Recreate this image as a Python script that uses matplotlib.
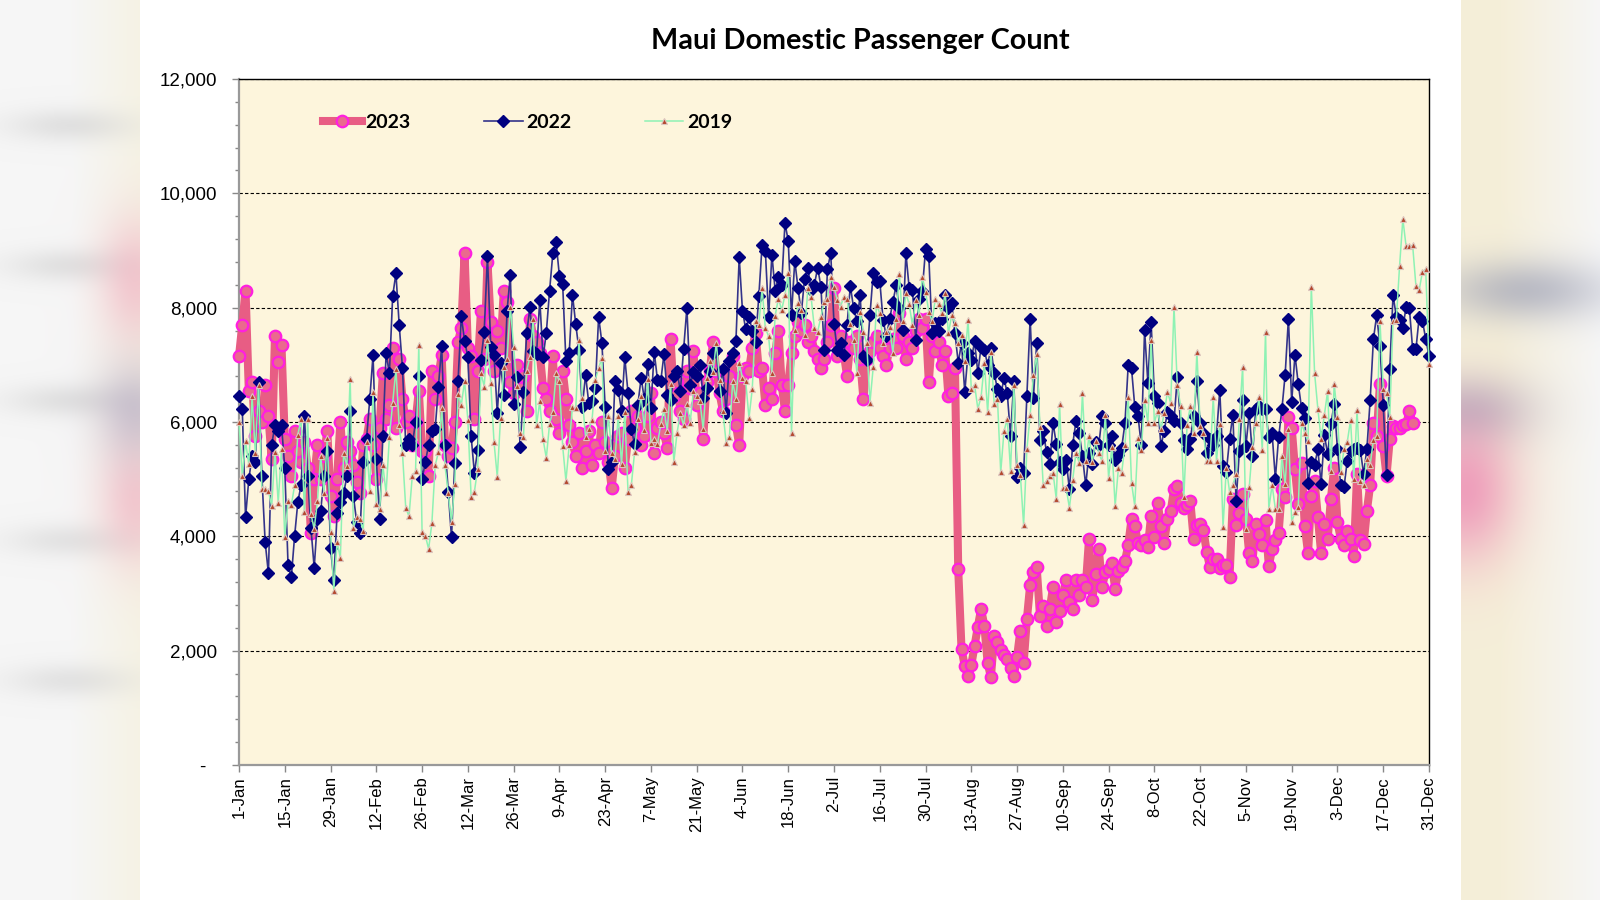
import numpy as np
import matplotlib
matplotlib.use('Agg')
import matplotlib.pyplot as plt
from matplotlib import font_manager
from matplotlib.patches import Rectangle
from matplotlib.ticker import MultipleLocator, FuncFormatter

# tick labels, one every 14 days
tick_labels = ['1-Jan', '15-Jan', '29-Jan', '12-Feb', '26-Feb', '12-Mar', '26-Mar', '9-Apr', '23-Apr',
               '7-May', '21-May', '4-Jun', '18-Jun', '2-Jul', '16-Jul', '30-Jul', '13-Aug', '27-Aug',
               '10-Sep', '24-Sep', '8-Oct', '22-Oct', '5-Nov', '19-Nov', '3-Dec', '17-Dec', '31-Dec']

# daily counts, rows of 14 days
y2023 = [
    7150, 7700, 8300, 6550, 6700, 5750, 6200, 6000, 6650, 6100, 5350, 7500, 7050, 7350,
    5700, 5400, 5050, 5850, 5500, 5300, 5650, 5200, 4050, 5000, 5600, 5000, 5400, 5850,
    4700, 4350, 5000, 6000, 5200, 5650, 5500, 5250, 4950, 4750, 5600, 5700, 6050, 5600,
    5000, 5900, 6850, 6050, 6300, 7300, 5900, 7100, 6400, 6000, 6100, 5600, 6000, 6550,
    5500, 5500, 5050, 6900, 6400, 6800, 7170, 5600, 5400, 5550, 6000, 7400, 7650, 8950,
    7300, 7150, 6050, 6900, 7950, 7100, 8800, 7750, 6900, 7600, 7300, 8300, 8100, 6700,
    6500, 7000, 6600, 6800, 6200, 7800, 7500, 7400, 7200, 6600, 6400, 6200, 7150, 6050,
    5800, 6900, 6400, 5950, 5650, 5400, 5800, 5200, 5500, 5850, 5250, 5600, 5450, 6000,
    5650, 5300, 4850, 5400, 5750, 5800, 5200, 5700, 6200, 5900, 6100, 5600, 5750, 6100,
    6500, 5450, 5900, 6000, 5800, 5550, 7450, 6450, 6700, 6200, 6050, 6900, 6600, 7250,
    6300, 6500, 5700, 6700, 6900, 7400, 6900, 6500, 6200, 6400, 6800, 7150, 5950, 5600,
    6800, 6950, 6900, 7300, 7550, 6900, 6950, 6300, 6600, 6400, 7200, 7600, 6650, 6200,
    6650, 7200, 7500, 7750, 7600, 7700, 7400, 7500, 7250, 7100, 6950, 7100, 7400, 7700,
    8350, 7150, 7500, 7200, 6800, 7400, 7300, 7500, 7100, 6400, 7100, 7250, 7400, 7500,
    7300, 7150, 7000, 7300, 7450, 7300, 7900, 7500, 7100, 7400, 7300, 7600, 7800, 7650,
    7800, 6700, 7500, 7250, 7400, 7000, 7250, 6450, 6500, 6950, 3420, 2030, 1730, 1560,
    1750, 2090, 2420, 2730, 2430, 1780, 1540, 2260, 2160, 2010, 1920, 1850, 1700, 1560,
    1890, 2350, 1780, 2550, 3150, 3380, 3460, 2610, 2790, 2440, 2730, 3110, 2510, 2700,
    2980, 3230, 2850, 2730, 3230, 2970, 3230, 3110, 3950, 2880, 3340, 3780, 3110, 3370,
    3430, 3530, 3080, 3400, 3460, 3560, 3850, 4300, 4180, 3890, 3840, 3930, 3810, 4360,
    3980, 4590, 4180, 3890, 4310, 4440, 4820, 4880, 4590, 4500, 4550, 4610, 3960, 4200,
    4210, 4110, 3730, 3460, 3600, 3610, 3440, 3500, 3490, 3290, 4650, 4190, 4400, 4740,
    4300, 3700, 3560, 4220, 4040, 3840, 4280, 3480, 3780, 3930, 4060, 4830, 4680, 6090,
    5900, 5180, 4570, 5290, 4180, 3710, 4710, 4970, 4330, 3710, 4220, 3950, 4660, 5200,
    4250, 3960, 3840, 4100, 3950, 3660, 5090, 3930, 3870, 4450, 4890, 5990, 5760, 6670,
    5580, 5060, 5700, 5930, 5900, 5900, 5940, 5960, 6190, 5980,
]

y2022 = [
    6450, 6230, 4330, 5000, 5400, 5300, 6700, 5050, 3900, 3350, 5600, 5950, 5850, 5950,
    5200, 3500, 3280, 4000, 4600, 4900, 6100, 5050, 4150, 3450, 4300, 4450, 5050, 5500,
    3800, 3230, 4400, 4600, 4750, 5050, 6200, 4700, 4250, 4050, 5300, 5700, 6400, 7170,
    5350, 4300, 5750, 7200, 6850, 8200, 8600, 7700, 6950, 5600, 5700, 5600, 6000, 6800,
    5000, 5300, 5600, 5850, 5870, 6620, 7330, 5600, 4780, 3980, 5290, 6710, 7850, 7420,
    7140, 5750, 5110, 5510, 7080, 7580, 8910, 7320, 7170, 6160, 7030, 6470, 7950, 8580,
    6320, 6790, 5560, 6530, 7550, 8010, 7250, 7190, 8140, 7130, 7560, 8300, 8950, 9140,
    8560, 8410, 7070, 7200, 8230, 7710, 7260, 6270, 6820, 6330, 6360, 6600, 7840, 7390,
    6260, 5170, 5300, 6710, 6560, 6200, 7130, 6500, 5880, 5610, 6300, 6770, 6400, 7020,
    6250, 7230, 6740, 6710, 7190, 6480, 6390, 6800, 6890, 6540, 7280, 8000, 6650, 6870,
    6800, 7000, 6420, 6600, 6900, 7210, 7260, 6540, 6920, 6160, 7060, 7200, 7410, 8880,
    7950, 7620, 7840, 7600, 7400, 8200, 9090, 9000, 7840, 8930, 8300, 8540, 8390, 9480,
    9170, 7870, 8820, 8340, 7900, 8510, 8700, 8310, 8400, 8700, 8370, 7260, 8680, 8950,
    7720, 7260, 7390, 7180, 7700, 8380, 7990, 7760, 8220, 7150, 7090, 7870, 8610, 8450,
    8470, 7790, 7500, 7800, 8100, 8390, 7990, 7610, 8950, 8340, 8310, 7440, 8160, 8300,
    9020, 8900, 7550, 7730, 7600, 7810, 8220, 8000, 8080, 7550, 7040, 7380, 6520, 7210,
    7090, 7410, 6860, 7320, 7260, 7000, 7290, 6860, 6570, 6460, 6770, 6500, 5760, 6710,
    5030, 5200, 5110, 6460, 7810, 6420, 7390, 5690, 5850, 5470, 5260, 5980, 5620, 5300,
    5170, 5340, 4820, 5600, 6010, 5810, 5400, 4890, 5460, 5270, 5650, 5600, 6100, 5980,
    5600, 5750, 5330, 5430, 5550, 5980, 7000, 6940, 6270, 6100, 5590, 7610, 6690, 7750,
    6460, 6330, 5580, 5840, 6180, 6110, 6010, 6790, 5980, 5690, 5520, 5700, 6100, 6710,
    5980, 5800, 5460, 5700, 5600, 5760, 6560, 5230, 5120, 5700, 6130, 4610, 5500, 6380,
    5580, 6160, 5410, 6220, 6280, 6220, 6220, 5730, 5810, 5010, 5730, 6220, 6830, 7810,
    6350, 7180, 6670, 6250, 6070, 4930, 5300, 5250, 5520, 4910, 5770, 5440, 5960, 6320,
    5530, 4890, 4860, 5320, 5500, 5530, 5550, 5510, 5090, 5530, 6380, 7450, 7870, 7330,
    6300, 5070, 6930, 8220, 7840, 7790, 7640, 8020, 7990, 7270, 7270, 7840, 7770, 7450,
    7160,
]

y2019 = [
    6000, 5060, 5660, 5260, 6450, 5450, 6650, 4830, 4820, 4790, 4530, 5470, 4590, 5520,
    3980, 4620, 4540, 4890, 5780, 6050, 4430, 6050, 4390, 4130, 4620, 5410, 4760, 5720,
    4080, 3050, 3900, 3620, 5460, 5230, 6760, 4150, 4330, 4300, 4100, 5650, 4790, 6530,
    4560, 4470, 5240, 4760, 5740, 6340, 6920, 5940, 5460, 4500, 4350, 5050, 5140, 7340,
    4070, 4010, 3780, 4230, 5240, 5470, 6240, 5240, 4760, 4250, 4910, 6490, 6300, 6710,
    6040, 4690, 4780, 5180, 6860, 6620, 7440, 6690, 5650, 5040, 6070, 6970, 7110, 8020,
    7320, 6630, 5810, 5740, 6900, 7140, 7810, 5940, 6360, 5700, 5370, 5970, 6180, 6850,
    6710, 5580, 4970, 5590, 6270, 6240, 7430, 6420, 5740, 5870, 6040, 6740, 6940, 7120,
    5490, 6100, 5460, 5350, 6110, 5260, 6170, 4770, 4890, 5470, 6050, 6460, 5860, 6750,
    5640, 5710, 5610, 5960, 6220, 5840, 6670, 5300, 5810, 6160, 5940, 6310, 5990, 6540,
    6450, 6360, 5870, 6770, 7060, 6870, 7390, 6740, 6190, 5640, 5730, 6710, 6400, 7040,
    6770, 6710, 6070, 6580, 7760, 7700, 8340, 7640, 7500, 6850, 7860, 8160, 7960, 8220,
    8610, 5810, 7610, 8090, 7960, 7520, 8340, 8180, 7640, 7580, 7840, 8100, 8160, 8540,
    8370, 8130, 8020, 8190, 8160, 7720, 7440, 6860, 7930, 7580, 7380, 6340, 6960, 8050,
    7900, 7390, 7580, 7670, 7210, 7810, 8590, 7760, 8250, 8060, 7690, 8130, 7870, 8540,
    8280, 7930, 7760, 8160, 8060, 7900, 8260, 7550, 7870, 7730, 7380, 7520, 7060, 7790,
    6570, 6650, 6230, 6440, 7030, 6170, 7230, 6320, 6400, 5120, 5840, 6050, 5150, 6640,
    5250, 5080, 4200, 5520, 6130, 6820, 7190, 5920, 4890, 4970, 5050, 5110, 4650, 6320,
    4850, 4850, 4500, 4980, 5460, 5290, 6500, 5310, 5750, 5300, 5660, 5460, 5310, 6130,
    5020, 5570, 4530, 5200, 5110, 5600, 6430, 4940, 4530, 5720, 5510, 6390, 5990, 7430,
    5990, 6200, 5870, 6150, 6530, 6330, 8020, 6650, 6280, 4680, 5950, 6280, 5810, 7230,
    5930, 5810, 5310, 5310, 6430, 5320, 5960, 4160, 5200, 4780, 4900, 5090, 6060, 6970,
    4130, 4860, 5570, 5990, 6440, 5510, 7580, 4480, 4900, 4480, 4470, 5410, 4910, 5880,
    4250, 4420, 4510, 5980, 5810, 5670, 8370, 6860, 6230, 5710, 6130, 6540, 5150, 6670,
    6090, 5130, 5520, 5650, 6030, 5010, 6210, 4970, 4900, 5360, 5250, 5690, 5760, 7770,
    6580, 6510, 6090, 7760, 7790, 8730, 9550, 9070, 9070, 9090, 8380, 8310, 8630, 8670,
    7020,
]

assert len(y2022) == 365 and len(y2019) == 365 and len(y2023) == 360


def has_font(name):
    try:
        font_manager.findfont(font_manager.FontProperties(family=name), fallback_to_default=False)
        return True
    except ValueError:
        return False


narrow = has_font('Liberation Sans Narrow')
xfont = 'Liberation Sans Narrow' if narrow else 'Liberation Sans'
xsize = 14.5 if narrow else 12

W, H = 1600, 900
fig = plt.figure(figsize=(16, 9), dpi=100)

# blurred backdrop outside the white panel
yy, xx = np.mgrid[0:H, 0:W].astype(float)
bg = np.empty((H, W, 3))
bg[:] = (0.965, 0.965, 0.965)


def mix(alpha, color):
    global bg
    a = alpha[..., None]
    bg = bg * (1 - a) + np.array(color) * a


mix(np.clip((xx - 70) / 70, 0, 1) * (xx < 140) * 0.6, (0.96, 0.94, 0.85))
mix(np.clip(1 - (xx - 1500) / 100, 0, 1) * (xx >= 1461) * 0.85, (0.96, 0.93, 0.83))
blobs = [
    (70, 125, 45, 12, (0.78, 0.78, 0.78), 0.45),
    (70, 265, 45, 12, (0.78, 0.78, 0.78), 0.45),
    (70, 400, 45, 12, (0.78, 0.78, 0.78), 0.45),
    (70, 540, 45, 12, (0.78, 0.78, 0.78), 0.4),
    (70, 680, 45, 12, (0.78, 0.78, 0.78), 0.4),
    (135, 280, 26, 45, (0.94, 0.62, 0.72), 0.5),
    (135, 500, 26, 45, (0.94, 0.62, 0.72), 0.5),
    (135, 410, 28, 35, (0.62, 0.58, 0.72), 0.45),
    (1525, 290, 60, 22, (0.55, 0.57, 0.68), 0.55),
    (1470, 410, 45, 25, (0.55, 0.5, 0.66), 0.45),
    (1465, 490, 35, 50, (0.92, 0.42, 0.66), 0.6),
]
for cx, cy, sx, sy, col, s in blobs:
    mix(s * np.exp(-0.5 * (((xx - cx) / sx) ** 2 + ((yy - cy) / sy) ** 2)), col)

fig.figimage(bg, xo=0, yo=0, origin='upper', zorder=-2)
fig.patches.append(Rectangle((140 / W, 0), (1461 - 140) / W, 1, transform=fig.transFigure,
                             facecolor='white', edgecolor='none', zorder=-1))

ax = fig.add_axes([239 / W, 135 / H, 1190 / W, 686 / H])
ax.set_facecolor('#fdf5dc')

days = np.arange(365)
ax.plot(days[:len(y2023)], y2023, color='#e85d84', lw=5.8, marker='o', ms=8.3,
        mfc='#ea6a8e', mec='#ff1fe0', mew=1.6, zorder=3, clip_on=False, label='2023')
ax.plot(days, y2022, color='#33338a', lw=1.2, marker='D', ms=6,
        mfc='#000080', mec='#000080', zorder=4, clip_on=False, label='2022')
ax.plot(days, y2019, color='#8ef2b4', lw=1.1, marker='^', ms=5,
        mfc='#b3472d', mec='#dcc6bf', mew=0.8, zorder=5, clip_on=False, label='2019')

ax.set_xlim(0, 364)
ax.set_ylim(0, 12000)
ax.set_axisbelow(True)
ax.set_yticks(range(0, 12001, 2000))
ax.yaxis.set_minor_locator(MultipleLocator(400))
ax.yaxis.set_major_formatter(FuncFormatter(lambda v, p: '-  ' if v == 0 else f'{int(v):,}'))
ax.yaxis.grid(True, which='major', linestyle=(0, (3, 2)), color='black', lw=0.8)
ax.tick_params(axis='y', which='major', length=5, width=1, color='#888888', pad=11, labelsize=13.5)
ax.tick_params(axis='y', which='minor', length=3, width=1, color='#888888')
for lab in ax.get_yticklabels():
    lab.set_family('Liberation Sans')

ax.set_xticks(range(0, 365, 14))
ax.set_xticklabels(tick_labels, rotation=90, fontsize=xsize, family=xfont)
ax.tick_params(axis='x', length=5, width=1, color='#888888', pad=3)

for s in ['left', 'bottom']:
    ax.spines[s].set_color('#999999')
    ax.spines[s].set_linewidth(1.6)
for s in ['top', 'right']:
    ax.spines[s].set_color('black')
    ax.spines[s].set_linewidth(1.0)

ax.legend(ncol=3, frameon=False, loc='center left', bbox_to_anchor=(0.0705, 0.937),
          borderaxespad=0, borderpad=0, handlelength=2.0, handletextpad=0.2, columnspacing=3.75,
          prop={'family': 'Lato', 'weight': 'bold', 'size': 14})

fig.text(0.538, 0.955, 'Maui Domestic Passenger Count', ha='center', va='center',
         fontsize=20.7, fontweight='bold', family='Lato')

fig.savefig('out.png', dpi=100)
